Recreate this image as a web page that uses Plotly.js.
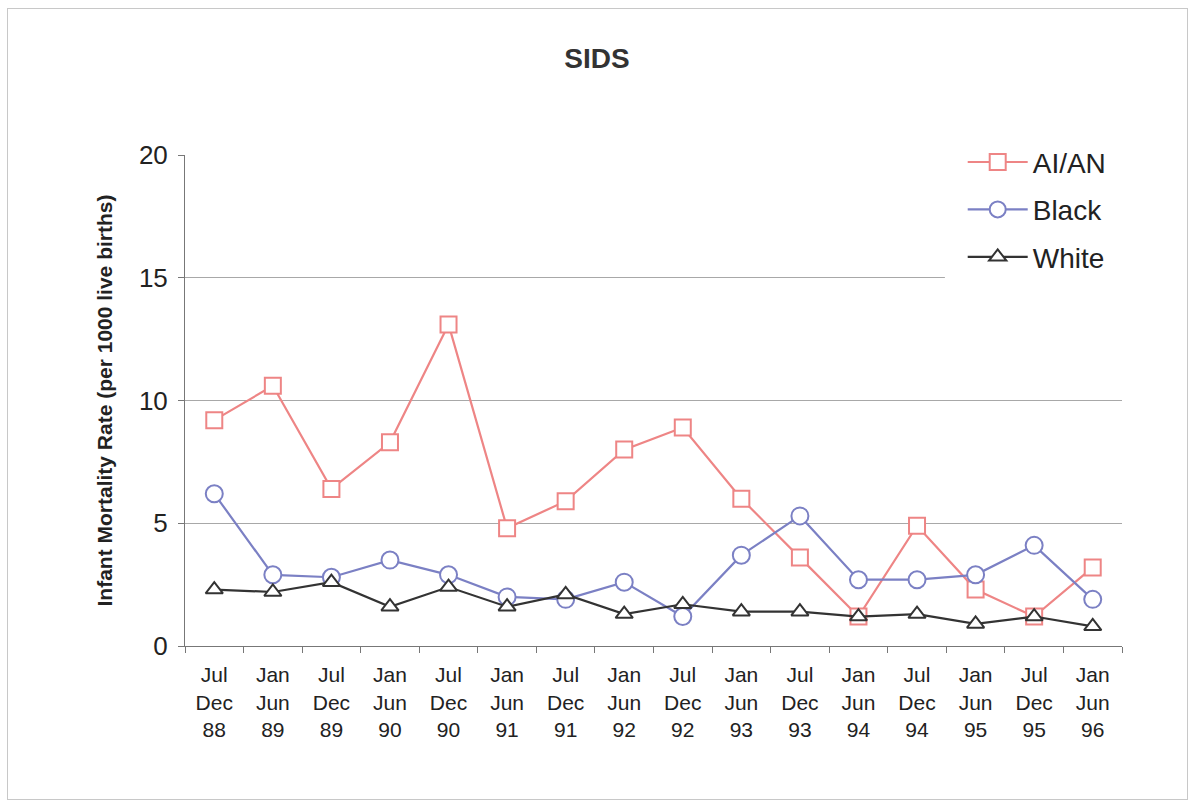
<!DOCTYPE html>
<html>
<head>
<meta charset="utf-8">
<script src="https://cdn.plot.ly/plotly-3.0.1.min.js"></script>
<style>
  html, body { margin: 0; padding: 0; background: #ffffff; }
  #frame {
    position: absolute; left: 7px; top: 8px; width: 1181px; height: 792px;
    border: 1px solid #c8c8c8; box-sizing: border-box;
  }
  #chart { position: absolute; left: 0; top: 0; width: 1194px; height: 804px; }
</style>
</head>
<body>
<div id="frame"></div>
<div id="chart"></div>
<script>
// Half-year periods (Jul-Dec / Jan-Jun)
const periods = [
  "Jul<br>Dec<br>88", "Jan<br>Jun<br>89", "Jul<br>Dec<br>89", "Jan<br>Jun<br>90",
  "Jul<br>Dec<br>90", "Jan<br>Jun<br>91", "Jul<br>Dec<br>91", "Jan<br>Jun<br>92",
  "Jul<br>Dec<br>92", "Jan<br>Jun<br>93", "Jul<br>Dec<br>93", "Jan<br>Jun<br>94",
  "Jul<br>Dec<br>94", "Jan<br>Jun<br>95", "Jul<br>Dec<br>95", "Jan<br>Jun<br>96"
];

// SIDS infant mortality rate per 1000 live births
const aian  = [9.2, 10.6, 6.4, 8.3, 13.1, 4.8, 5.9, 8.0, 8.9, 6.0, 3.6, 1.2, 4.9, 2.3, 1.2, 3.2];
const black = [6.2, 2.9, 2.8, 3.5, 2.9, 2.0, 1.9, 2.6, 1.2, 3.7, 5.3, 2.7, 2.7, 2.9, 4.1, 1.9];
const white = [2.3, 2.2, 2.6, 1.6, 2.4, 1.6, 2.1, 1.3, 1.7, 1.4, 1.4, 1.2, 1.3, 0.9, 1.2, 0.8];

const yTicks = [0, 5, 10, 15, 20];

function series(name, values, color, symbol, size) {
  return {
    type: "scatter",
    mode: "lines+markers",
    name: name,
    legendgroup: name,
    x: periods,
    y: values,
    line: { color: color, width: 2.2 },
    marker: {
      symbol: symbol,
      size: size,
      color: "#ffffff",
      line: { color: color, width: 2 }
    },
    cliponaxis: false
  };
}

const traces = [
  series("AI/AN", aian, "#ee8585", "square", 16),
  series("Black", black, "#7b80c4", "circle", 17),
  series("White", white, "#333333", "triangle-up", 15)
];

const layout = {
  width: 1194,
  height: 804,
  paper_bgcolor: "rgba(0,0,0,0)",
  plot_bgcolor: "rgba(0,0,0,0)",
  margin: { l: 185, r: 72, t: 155, b: 158 },
  font: { family: "Liberation Sans, Arial, sans-serif", color: "#222222" },
  title: {
    text: "<b>SIDS</b>",
    font: { size: 28, color: "#333333" },
    x: 0.5, xanchor: "center",
    y: 0.928, yanchor: "middle"
  },
  xaxis: {
    type: "category",
    range: [-0.5, 15.5],
    tickson: "boundaries",
    ticks: "outside",
    ticklen: 6,
    tickcolor: "#777777",
    showline: true,
    linecolor: "#777777",
    linewidth: 1,
    showgrid: false,
    tickfont: { size: 21, color: "#222222" },
    tickangle: 0,
    ticklabelstandoff: 10
  },
  yaxis: {
    range: [0, 20],
    tickvals: yTicks,
    ticktext: yTicks.map(String),
    ticks: "outside",
    ticklen: 6,
    tickcolor: "#777777",
    showline: true,
    linecolor: "#777777",
    linewidth: 1,
    showgrid: true,
    gridcolor: "#a8a8a8",
    gridwidth: 1,
    zeroline: false,
    tickfont: { size: 26, color: "#222222" },
    ticklabelstandoff: 5,
    title: {
      text: "<b>Infant Mortality Rate (per 1000 live births)</b>",
      font: { size: 21, color: "#222222" },
      standoff: 20
    }
  },
  // white panel behind the legend that hides the upper gridlines
  shapes: [{
    type: "rect",
    layer: "above",
    xref: "paper", yref: "paper",
    x0: 0.811, x1: 1.01, y0: 0.72, y1: 1.02,
    fillcolor: "#ffffff",
    line: { width: 0 }
  }],
  legend: {
    x: 0.83, y: 1.036,
    xanchor: "left", yanchor: "top",
    bgcolor: "rgba(0,0,0,0)",
    borderwidth: 0,
    font: { size: 28, color: "#222222" },
    itemwidth: 60,
    tracegroupgap: 8,
    traceorder: "grouped"
  },
  showlegend: true
};

Plotly.newPlot("chart", traces, layout, { displayModeBar: false, staticPlot: true });
</script>
</body>
</html>
